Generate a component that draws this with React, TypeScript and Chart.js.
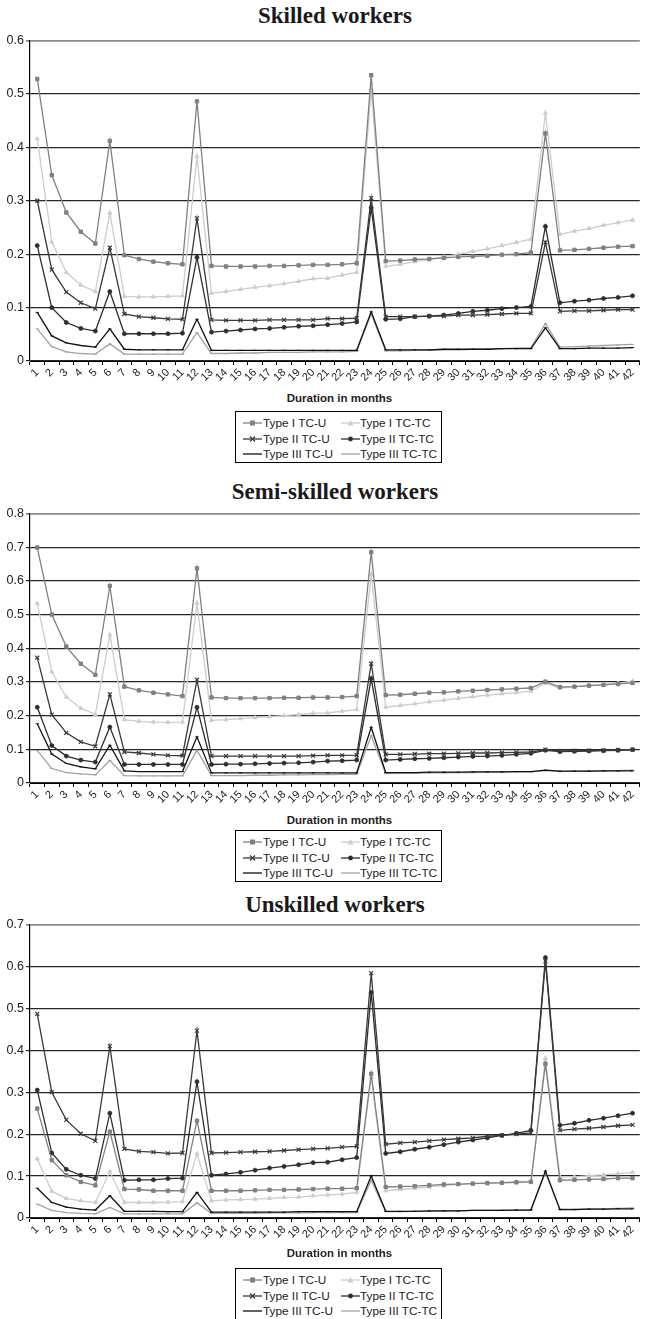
import React, { useEffect, useRef } from 'react';
import { Chart, registerables } from 'chart.js';

Chart.register(...registerables);

// ---------- Categories / labels ----------
const months = ['1','2','3','4','5','6','7','8','9','10','11','12','13','14','15','16','17','18','19','20','21','22','23','24','25','26','27','28','29','30','31','32','33','34','35','36','37','38','39','40','41','42'];
const seriesNames = ['Type I TC-U', 'Type I TC-TC', 'Type II TC-U', 'Type II TC-TC', 'Type III TC-U', 'Type III TC-TC'];
const panelTitles = ['Skilled workers', 'Semi-skilled workers', 'Unskilled workers'];
const xAxisTitle = 'Duration in months';

// ---------- Skilled workers ----------
const skilledTypeI_U = [0.528,0.348,0.278,0.242,0.220,0.412,0.198,0.191,0.186,0.183,0.181,0.486,0.178,0.177,0.177,0.177,0.178,0.178,0.179,0.180,0.180,0.181,0.183,0.535,0.187,0.188,0.190,0.191,0.193,0.195,0.196,0.197,0.199,0.200,0.203,0.426,0.207,0.208,0.210,0.212,0.214,0.215];
const skilledTypeI_TC = [0.416,0.223,0.166,0.142,0.130,0.277,0.121,0.120,0.120,0.121,0.122,0.383,0.127,0.130,0.134,0.138,0.141,0.145,0.149,0.154,0.155,0.161,0.166,0.508,0.177,0.181,0.186,0.190,0.195,0.200,0.205,0.210,0.216,0.222,0.228,0.464,0.237,0.243,0.248,0.254,0.259,0.264];
const skilledTypeII_U = [0.300,0.171,0.129,0.109,0.098,0.212,0.088,0.083,0.081,0.079,0.078,0.267,0.077,0.076,0.076,0.076,0.077,0.077,0.077,0.077,0.0795,0.0795,0.080,0.305,0.083,0.083,0.083,0.084,0.084,0.086,0.086,0.087,0.088,0.089,0.089,0.222,0.093,0.094,0.094,0.095,0.096,0.096];
const skilledTypeII_TC = [0.216,0.100,0.072,0.061,0.056,0.130,0.051,0.051,0.051,0.051,0.052,0.194,0.054,0.056,0.058,0.060,0.061,0.063,0.065,0.066,0.068,0.070,0.073,0.287,0.078,0.079,0.083,0.084,0.086,0.089,0.093,0.095,0.098,0.100,0.102,0.252,0.109,0.112,0.114,0.117,0.119,0.122];
const skilledTypeIII_U = [0.091,0.047,0.034,0.029,0.026,0.060,0.022,0.021,0.021,0.021,0.021,0.078,0.020,0.020,0.020,0.020,0.020,0.020,0.020,0.020,0.020,0.020,0.020,0.092,0.021,0.021,0.021,0.021,0.022,0.022,0.022,0.022,0.023,0.023,0.023,0.062,0.023,0.023,0.024,0.024,0.024,0.025];
const skilledTypeIII_TC = [0.060,0.027,0.017,0.014,0.013,0.032,0.013,0.013,0.013,0.013,0.013,0.053,0.014,0.014,0.015,0.015,0.016,0.016,0.016,0.017,0.017,0.017,0.018,0.088,0.019,0.019,0.020,0.020,0.021,0.021,0.022,0.022,0.023,0.024,0.025,0.070,0.026,0.027,0.028,0.029,0.030,0.031];

// ---------- Semi-skilled workers ----------
const semiTypeI_U = [0.699,0.500,0.405,0.354,0.321,0.585,0.286,0.275,0.268,0.263,0.258,0.637,0.254,0.252,0.252,0.252,0.252,0.253,0.253,0.254,0.254,0.255,0.258,0.685,0.261,0.262,0.265,0.268,0.269,0.272,0.274,0.276,0.278,0.280,0.282,0.301,0.285,0.286,0.289,0.291,0.294,0.297];
const semiTypeI_TC = [0.533,0.330,0.255,0.222,0.204,0.440,0.188,0.183,0.181,0.180,0.181,0.534,0.186,0.188,0.191,0.194,0.197,0.200,0.203,0.207,0.208,0.213,0.218,0.620,0.225,0.230,0.235,0.241,0.246,0.251,0.256,0.261,0.265,0.268,0.273,0.296,0.281,0.286,0.290,0.293,0.296,0.303];
const semiTypeII_U = [0.372,0.203,0.149,0.122,0.109,0.263,0.092,0.089,0.085,0.082,0.081,0.306,0.080,0.080,0.080,0.080,0.080,0.080,0.080,0.081,0.082,0.082,0.083,0.354,0.085,0.085,0.086,0.087,0.087,0.088,0.089,0.089,0.090,0.091,0.092,0.099,0.095,0.096,0.096,0.097,0.098,0.099];
const semiTypeII_TC = [0.225,0.111,0.080,0.068,0.062,0.166,0.055,0.055,0.055,0.055,0.055,0.225,0.055,0.056,0.056,0.057,0.058,0.059,0.060,0.062,0.065,0.066,0.068,0.310,0.068,0.070,0.072,0.073,0.075,0.077,0.079,0.080,0.082,0.085,0.088,0.097,0.093,0.094,0.095,0.096,0.097,0.099];
const semiTypeIII_U = [0.176,0.086,0.058,0.048,0.042,0.112,0.036,0.034,0.034,0.034,0.034,0.137,0.030,0.030,0.030,0.030,0.030,0.030,0.030,0.030,0.030,0.030,0.030,0.165,0.031,0.031,0.031,0.032,0.032,0.032,0.033,0.033,0.033,0.034,0.034,0.038,0.035,0.035,0.035,0.036,0.036,0.036];
const semiTypeIII_TC = [0.096,0.043,0.031,0.027,0.024,0.067,0.022,0.021,0.021,0.021,0.021,0.097,0.022,0.022,0.022,0.023,0.023,0.024,0.024,0.025,0.025,0.026,0.026,0.140,0.028,0.029,0.029,0.030,0.030,0.031,0.031,0.032,0.032,0.033,0.033,0.037,0.034,0.035,0.035,0.036,0.037,0.038];

// ---------- Unskilled workers ----------
const unskTypeI_U = [0.261,0.138,0.102,0.086,0.078,0.206,0.069,0.068,0.065,0.065,0.065,0.232,0.065,0.065,0.065,0.066,0.067,0.067,0.068,0.069,0.070,0.070,0.071,0.344,0.074,0.075,0.076,0.078,0.080,0.081,0.082,0.083,0.084,0.085,0.086,0.368,0.090,0.091,0.092,0.093,0.095,0.095];
const unskTypeI_TC = [0.141,0.064,0.047,0.041,0.037,0.111,0.037,0.037,0.037,0.038,0.039,0.153,0.041,0.043,0.044,0.045,0.047,0.049,0.050,0.053,0.055,0.057,0.061,0.335,0.065,0.068,0.071,0.074,0.077,0.080,0.082,0.084,0.085,0.087,0.087,0.381,0.098,0.098,0.101,0.103,0.106,0.109];
const unskTypeII_U = [0.487,0.300,0.234,0.201,0.184,0.410,0.165,0.159,0.157,0.154,0.155,0.447,0.155,0.156,0.157,0.158,0.159,0.161,0.163,0.165,0.166,0.169,0.171,0.584,0.176,0.179,0.181,0.184,0.187,0.189,0.191,0.195,0.197,0.200,0.203,0.612,0.209,0.212,0.214,0.217,0.220,0.222];
const unskTypeII_TC = [0.305,0.155,0.116,0.102,0.094,0.250,0.090,0.091,0.091,0.094,0.095,0.325,0.102,0.105,0.109,0.114,0.119,0.123,0.127,0.132,0.133,0.139,0.144,0.538,0.154,0.158,0.164,0.169,0.175,0.181,0.186,0.191,0.197,0.202,0.209,0.621,0.221,0.226,0.233,0.238,0.244,0.250];
const unskTypeIII_U = [0.071,0.037,0.026,0.021,0.019,0.053,0.016,0.016,0.016,0.015,0.015,0.061,0.014,0.014,0.014,0.014,0.014,0.014,0.015,0.015,0.015,0.015,0.015,0.100,0.016,0.016,0.016,0.017,0.017,0.017,0.018,0.018,0.018,0.019,0.019,0.112,0.020,0.020,0.021,0.021,0.022,0.022];
const unskTypeIII_TC = [0.033,0.018,0.013,0.011,0.010,0.025,0.010,0.010,0.010,0.010,0.010,0.036,0.011,0.011,0.011,0.011,0.012,0.012,0.012,0.013,0.013,0.013,0.013,0.090,0.015,0.015,0.016,0.016,0.017,0.017,0.018,0.018,0.019,0.019,0.020,0.108,0.021,0.021,0.022,0.022,0.023,0.024];

const yMaxes = [0.6, 0.8, 0.7];

// ---------- Styles ----------
type SeriesStyle = { color: string; pointStyle: string; radius: number; pbw: number };
const seriesStyles: SeriesStyle[] = [
  { color: '#808080', pointStyle: 'rect', radius: 2.4, pbw: 1 },
  { color: '#cdcdcd', pointStyle: 'triangle', radius: 2.3, pbw: 1 },
  { color: '#3a3a3a', pointStyle: 'crossRot', radius: 2.8, pbw: 1.2 },
  { color: '#2e2e2e', pointStyle: 'circle', radius: 2.0, pbw: 0.8 },
  { color: '#111111', pointStyle: 'line', radius: 1.6, pbw: 1 },
  { color: '#a3a3a3', pointStyle: 'line', radius: 1.6, pbw: 1 },
];

const SANS = '"Liberation Sans", Arial, sans-serif';
const SERIF = '"Liberation Serif", "Times New Roman", serif';

type PanelLayout = { titleTop: number; canvasTop: number; canvasHeight: number; xTitleCenter: number; legendTop: number };
const panelLayouts: PanelLayout[] = [
  { titleTop: 3.5, canvasTop: 31, canvasHeight: 359, xTitleCenter: 398, legendTop: 411 },
  { titleTop: 480, canvasTop: 504, canvasHeight: 308, xTitleCenter: 820, legendTop: 830 },
  { titleTop: 893, canvasTop: 915, canvasHeight: 332, xTitleCenter: 1253, legendTop: 1268 },
];

const panelData = [
  [skilledTypeI_U, skilledTypeI_TC, skilledTypeII_U, skilledTypeII_TC, skilledTypeIII_U, skilledTypeIII_TC],
  [semiTypeI_U, semiTypeI_TC, semiTypeII_U, semiTypeII_TC, semiTypeIII_U, semiTypeIII_TC],
  [unskTypeI_U, unskTypeI_TC, unskTypeII_U, unskTypeII_TC, unskTypeIII_U, unskTypeIII_TC],
];

function LineChart({ values, yMax, top, height }: { values: number[][]; yMax: number; top: number; height: number }) {
  const ref = useRef<HTMLCanvasElement>(null);
  useEffect(() => {
    if (!ref.current) return;
    const chart = new Chart(ref.current, {
      type: 'line',
      data: {
        labels: months,
        datasets: values.map((v, i) => ({
          label: seriesNames[i],
          data: v,
          borderColor: seriesStyles[i].color,
          backgroundColor: seriesStyles[i].color,
          pointBackgroundColor: seriesStyles[i].color,
          pointBorderColor: seriesStyles[i].color,
          pointStyle: seriesStyles[i].pointStyle as any,
          pointRadius: seriesStyles[i].radius,
          pointBorderWidth: seriesStyles[i].pbw,
          borderWidth: 1.3,
          tension: 0,
          fill: false,
        })),
      },
      options: {
        animation: false,
        responsive: false,
        devicePixelRatio: 1,
        layout: { padding: { top: 8, right: 0, bottom: 0, left: 0 } },
        plugins: {
          legend: { display: false },
          title: { display: false },
          tooltip: { enabled: false },
        },
        scales: {
          x: {
            type: 'category',
            offset: true,
            grid: { display: true, drawOnChartArea: false, drawTicks: true, tickLength: 4, color: '#000', offset: true },
            border: { display: true, color: '#000', width: 1 },
            ticks: {
              autoSkip: false,
              maxRotation: 45,
              minRotation: 45,
              padding: 1,
              color: '#222',
              font: { family: SANS, size: 11 },
            },
            afterFit: (s: any) => { s.height = 29; },
          },
          y: {
            min: 0,
            max: yMax,
            ticks: {
              stepSize: 0.1,
              padding: 2,
              color: '#222',
              font: { family: SANS, size: 12.5 },
              callback: (v: any) => (Number(v) === 0 ? '0' : Number(v).toFixed(1)),
            },
            grid: {
              drawTicks: true,
              tickLength: 4,
              color: (ctx: any) => (ctx.tick && ctx.tick.value >= yMax - 1e-9 ? '#8c8c8c' : '#262626'),
              lineWidth: (ctx: any) => (ctx.tick && ctx.tick.value >= yMax - 1e-9 ? 1.8 : 1.2),
            },
            border: { display: true, color: '#000', width: 1.2 },
            afterFit: (s: any) => { s.width = 30; },
          },
        },
      },
    } as any);
    return () => chart.destroy();
  }, [values, yMax]);
  return (
    <canvas
      ref={ref}
      width={645}
      height={height}
      style={{ position: 'absolute', left: 0, top, width: 645, height, display: 'block' }}
    />
  );
}

function LegendSymbol({ style }: { style: SeriesStyle }) {
  const c = style.color;
  let marker: React.ReactNode = null;
  if (style.pointStyle === 'rect') marker = <rect x={7} y={2.5} width={5} height={5} fill={c} />;
  else if (style.pointStyle === 'triangle') marker = <polygon points="9.5,2 12.5,7.5 6.5,7.5" fill={c} />;
  else if (style.pointStyle === 'crossRot') marker = (
    <g stroke={c} strokeWidth={1.2}>
      <line x1={7} y1={2.5} x2={12} y2={7.5} />
      <line x1={12} y1={2.5} x2={7} y2={7.5} />
    </g>
  );
  else if (style.pointStyle === 'circle') marker = <circle cx={9.5} cy={5} r={2.4} fill={c} />;
  return (
    <svg width={19} height={10} style={{ position: 'absolute', left: 0, top: -5 }}>
      <line x1={0} y1={5} x2={19} y2={5} stroke={c} strokeWidth={1.3} />
      {marker}
    </svg>
  );
}

function Legend({ top }: { top: number }) {
  const rowCenters = [12, 27.5, 43];
  const colSymbolX = [8, 106];
  const colTextX = [28, 125];
  return (
    <div
      style={{
        position: 'absolute', left: 235, top, width: 207, height: 52,
        border: '1px solid #000', boxSizing: 'border-box', background: '#fff',
        fontFamily: SANS, fontSize: 11.8, color: '#222',
      }}
    >
      {seriesNames.map((name, i) => {
        const col = i % 2;
        const row = Math.floor(i / 2);
        return (
          <React.Fragment key={name}>
            <div style={{ position: 'absolute', left: colSymbolX[col] - 1, top: rowCenters[row] - 1 }}>
              <LegendSymbol style={seriesStyles[i]} />
            </div>
            <div style={{ position: 'absolute', left: colTextX[col] - 1, top: rowCenters[row] - 8, lineHeight: '14px', whiteSpace: 'nowrap' }}>
              {name}
            </div>
          </React.Fragment>
        );
      })}
    </div>
  );
}

function Panel({ index }: { index: number }) {
  const L = panelLayouts[index];
  return (
    <>
      <div
        style={{
          position: 'absolute', left: 25, width: 620, top: L.titleTop, textAlign: 'center',
          fontFamily: SERIF, fontWeight: 'bold', fontSize: 23, lineHeight: '23px', color: '#1a1a1a',
        }}
      >
        {panelTitles[index]}
      </div>
      <LineChart values={panelData[index]} yMax={yMaxes[index]} top={L.canvasTop} height={L.canvasHeight} />
      <div
        style={{
          position: 'absolute', left: 32, width: 615, top: L.xTitleCenter - 7, textAlign: 'center',
          fontFamily: SANS, fontWeight: 'bold', fontSize: 11.5, lineHeight: '14px', color: '#222',
        }}
      >
        {xAxisTitle}
      </div>
      <Legend top={L.legendTop} />
    </>
  );
}

export default function App() {
  return (
    <div style={{ position: 'absolute', left: 0, top: 0, width: 645, height: 1319, overflow: 'hidden', background: '#fff' }}>
      <Panel index={0} />
      <Panel index={1} />
      <Panel index={2} />
    </div>
  );
}
